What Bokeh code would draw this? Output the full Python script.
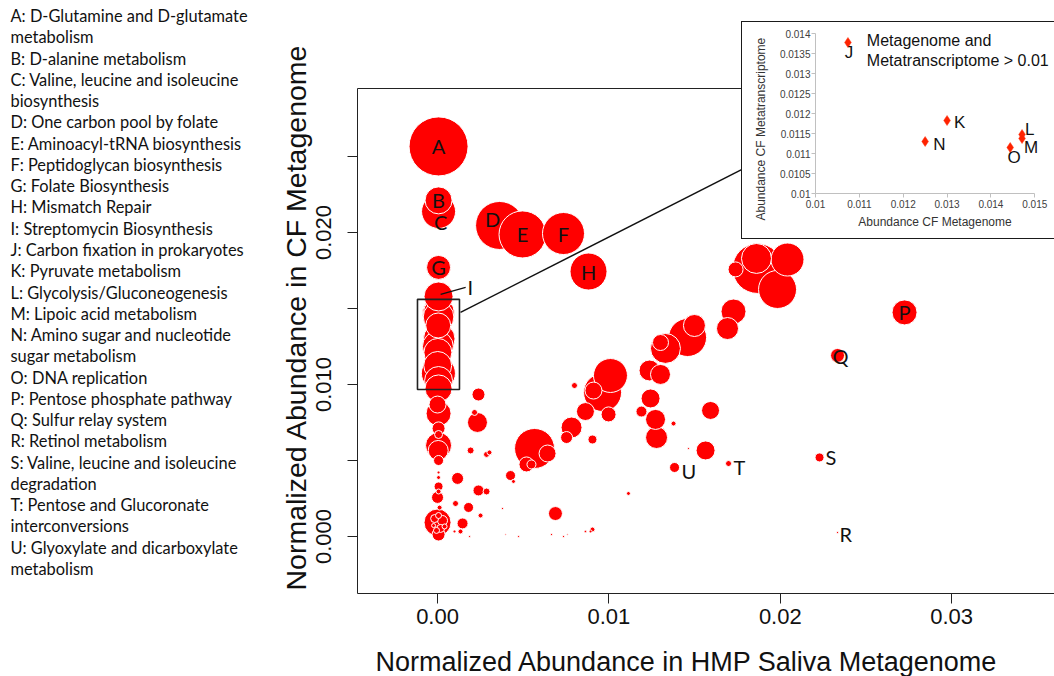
import math
from bokeh.plotting import figure
from bokeh.models import (Range1d, FixedTicker, CustomJSTickFormatter, PrintfTickFormatter,
                          LinearAxis, Title, ColumnDataSource)
from bokeh.embed import file_html
from bokeh.resources import INLINE
from bokeh.core.properties import value

# ---------------- data ----------------
legend_lines = [
    "A: D-Glutamine and D-glutamate", "metabolism",
    "B: D-alanine metabolism",
    "C: Valine, leucine and isoleucine", "biosynthesis",
    "D: One carbon pool by folate",
    "E: Aminoacyl-tRNA biosynthesis",
    "F: Peptidoglycan biosynthesis",
    "G: Folate Biosynthesis",
    "H: Mismatch Repair",
    "I: Streptomycin Biosynthesis",
    "J: Carbon fixation in prokaryotes",
    "K: Pyruvate metabolism",
    "L: Glycolysis/Gluconeogenesis",
    "M: Lipoic acid metabolism",
    "N: Amino sugar and nucleotide", "sugar metabolism",
    "O: DNA replication",
    "P: Pentose phosphate pathway",
    "Q: Sulfur relay system",
    "R: Retinol metabolism",
    "S: Valine, leucine and isoleucine", "degradation",
    "T: Pentose and Glucoronate", "interconversions",
    "U: Glyoxylate and dicarboxylate", "metabolism",
]

# labelled pathways (x = HMP saliva, y = CF metagenome, s = bubble size value)
lab_names = ["A", "B", "C", "D", "E", "F", "G", "H", "I", "P", "Q", "R", "S", "T", "U"]
lab_hmp = [0.00006, 0.00006, 0.00006, 0.00362, 0.00496, 0.00735, 0.00006, 0.00881, 0.00006,
           0.02725, 0.02334, 0.02334, 0.02229, 0.01698, 0.01383]
lab_cf = [0.02566, 0.02211, 0.02138, 0.02046, 0.01987, 0.01993, 0.01770, 0.01743, 0.01579,
          0.01474, 0.01191, 0.00026, 0.00520, 0.00480, 0.00454]
lab_size = [0.0414, 0.00867, 0.01375, 0.0274, 0.0263, 0.0210, 0.00685, 0.01628, 0.0100,
            0.00743, 0.00233, 0.0000476, 0.00096, 0.00043, 0.00119]

# pathways inside the box (shown in the inset): CF metagenome vs CF metatranscriptome
box_names = ["J", "K", "L", "M", "N", "O"]
box_hmp = [0.00005, 0.00010, 0.00003, 0.00008, 0.00002, 0.00006]
box_cf = [0.01074, 0.01300, 0.01471, 0.01471, 0.01250, 0.01444]
box_mtx = [0.013775, 0.011825, 0.011475, 0.011375, 0.01130, 0.01115]

# all other pathways
other_hmp = [
    0.00004, 0.00002, 0.00001, 0.00006, 0.00006, 0.00000, 0.00006, 0.00006, 0.00006, 0.00006,
    0.00004, 0.00006, 0.00006, 0.00006, 0.00006, 0.00006, 0.00000, 0.00000, 0.00006, -0.00017,
    0.00029, 0.00018, -0.00006, 0.00041, 0.00006, -0.00023, 0.00012,
    0.00239, 0.00233, 0.00216, 0.00193, 0.00286, 0.00303, 0.00117, 0.00239, 0.00286, 0.00105,
    0.00181, 0.00251, 0.00146, 0.00134, 0.00099, 0.00379, 0.00187, 0.00397, 0.00473, 0.00665,
    0.00735, 0.00758, 0.00863, 0.00904, 0.00893, 0.00688, 0.00426, 0.00443, 0.00566, 0.00642,
    0.00519, 0.00548, 0.00799, 0.01009, 0.00963, 0.00910, 0.00863, 0.00998, 0.00782, 0.00753,
    0.00904, 0.01114, 0.01237, 0.01301, 0.01243, 0.01190, 0.01272, 0.01278, 0.01377, 0.01593,
    0.01564, 0.01464, 0.01330, 0.01301, 0.01459, 0.01499, 0.01727, 0.01692, 0.01867, 0.01861,
    0.02042, 0.01984, 0.01739,
]
other_cf = [
    0.01388, 0.01211, 0.01125, 0.01026, 0.00974, 0.00868, 0.00809, 0.00711, 0.00671, 0.00599,
    0.00566, 0.00500, 0.00421, 0.00388, 0.00329, 0.00296, 0.00257, 0.00092, 0.00013, 0.00118,
    0.00105, 0.00053, 0.00040, 0.00066, 0.00138, 0.00072, 0.00190,
    0.00934, 0.00750, 0.00816, 0.00566, 0.00540, 0.00553, 0.00382, 0.00303, 0.00296, 0.00217,
    0.00191, 0.00138, 0.00086, 0.00033, 0.00033, 0.00184, 0.00000, 0.00013, 0.00000, 0.00013,
    0.00000, 0.00013, 0.00033, 0.00046, 0.00033, 0.00151, 0.00401, 0.00362, 0.00579, 0.00546,
    0.00474, 0.00474, 0.00993, 0.01059, 0.00947, 0.00960, 0.00822, 0.00803, 0.00717, 0.00651,
    0.00638, 0.00283, 0.01092, 0.01066, 0.00908, 0.00822, 0.00770, 0.00651, 0.00743, 0.00829,
    0.00566, 0.00579, 0.01237, 0.01276, 0.01309, 0.01388, 0.01480, 0.01368, 0.01763, 0.01829,
    0.01822, 0.01625, 0.01757,
]
other_size = [
    0.00743, 0.0093, 0.0093, 0.0093, 0.00867, 0.00344, 0.00743, 0.00201, 0.00076, 0.00804,
    0.00476, 0.00119, 0.000107, 0.00019, 0.00096, 0.0003, 0.00171, 0.00867, 0.00201, 0.00076,
    0.00119, 0.00076, 0.00043, 0.0003, 0.00043, 0.00019, 0.0003,
    0.00201, 0.00476, 0.00043, 0.00058, 0.00043, 0.0003, 0.00171, 0.00144, 0.00058, 0.00043,
    0.00119, 0.0003, 0.00144, 0.0003, 0.000107, 0.0000476, 0.0000476, 0.0000268, 0.0000476, 0.0000476,
    0.0000476, 0.0000268, 0.0000743, 0.0003, 0.000107, 0.00233, 0.00119, 0.00019, 0.0190, 0.00344,
    0.00268, 0.00096, 0.00043, 0.01375, 0.01717, 0.00344, 0.00385, 0.00268, 0.00524, 0.00171,
    0.00096, 0.00019, 0.00524, 0.00476, 0.00429, 0.00144, 0.00476, 0.00576, 0.0003, 0.00385,
    0.00429, 0.0000476, 0.0107, 0.00304, 0.01717, 0.00576, 0.00743, 0.00576, 0.0297, 0.0107,
    0.01295, 0.01717, 0.00268,
]

x_ticks = [0.0, 0.01, 0.02, 0.03]
y_ticks = [0.0, 0.005, 0.01, 0.015, 0.02, 0.025]
inset_x_ticks = [0.010, 0.011, 0.012, 0.013, 0.014, 0.015]
inset_y_ticks = [0.0100, 0.0105, 0.0110, 0.0115, 0.0120, 0.0125, 0.0130, 0.0135, 0.0140]

# zoom box (data units of main plot)
zoom_box = dict(left=-0.00117, right=0.00128, bottom=0.00967, top=0.0156)

# ---------------- styles ----------------
SIZE_K = 290.0
RED = "#ff0000"
AX_FONT = "Liberation Sans"

# ---------------- main plot ----------------
main = figure(width=1054, height=697,
              x_range=Range1d(-0.00467, 0.0360), y_range=Range1d(-0.00375, 0.02947),
              min_border_left=357, min_border_right=0, min_border_top=88, min_border_bottom=104,
              toolbar_location=None, output_backend="svg", outline_line_color=None,
              background_fill_color="white", border_fill_color="white")
main.grid.visible = False

# bubbles: draw biggest first
all_x = lab_hmp + box_hmp + other_hmp
all_y = lab_cf + box_cf + other_cf
all_s = lab_size + box_mtx + other_size
order = sorted(range(len(all_s)), key=lambda i: -all_s[i])
bsrc = ColumnDataSource(dict(
    x=[all_x[i] for i in order],
    y=[all_y[i] for i in order],
    d=[SIZE_K * math.sqrt(all_s[i]) for i in order],
))
main.scatter("x", "y", size="d", source=bsrc, marker="circle",
             fill_color=RED, line_color="white", line_width=1)

# zoom box + connector line + leader for I
main.quad(left=[zoom_box["left"]], right=[zoom_box["right"]],
          bottom=[zoom_box["bottom"]], top=[zoom_box["top"]],
          fill_color=None, line_color="#222222", line_width=1.6)
main.segment(x0=[0.00134], y0=[0.01474], x1=[0.0182], y1=[0.0244],
             line_color="#111111", line_width=1.5)
main.segment(x0=[0.00018], y0=[0.01592], x1=[0.00164], y1=[0.01638],
             line_color="#111111", line_width=1.3)

# letter labels
lab_dx = {"C": 2, "D": -7, "I": 29, "Q": 3, "R": 2, "S": 6, "T": 5, "U": 7}
lab_dy = {"C": 11, "D": -6, "I": -9, "Q": 1, "R": 1, "T": 3, "U": 4}
lab_al = {"I": "left", "R": "left", "S": "left", "T": "left", "U": "left"}
lsrc = ColumnDataSource(dict(
    x=lab_hmp, y=lab_cf, t=lab_names,
    dx=[lab_dx.get(n, 0) for n in lab_names],
    dy=[lab_dy.get(n, 0) for n in lab_names],
    al=[lab_al.get(n, "center") for n in lab_names],
))
main.text("x", "y", text="t", source=lsrc, x_offset="dx", y_offset="dy", text_align="al",
          text_baseline="middle", text_font=value("Lato"), text_font_size="20px",
          text_color="#111111")

# axes
for ax in (main.xaxis[0], main.yaxis[0]):
    ax.axis_line_color = "#222222"
    ax.axis_line_width = 1
    ax.major_tick_line_color = "#222222"
    ax.major_tick_out = 10
    ax.major_tick_in = 0
    ax.minor_tick_line_color = None
    ax.major_label_text_font = AX_FONT
    ax.major_label_text_font_size = "22px"
    ax.major_label_text_color = "#111111"
main.xaxis.ticker = FixedTicker(ticks=x_ticks)
main.xaxis.formatter = PrintfTickFormatter(format="%.2f")
main.xaxis.major_label_standoff = 5
main.yaxis.ticker = FixedTicker(ticks=y_ticks)
main.yaxis.formatter = CustomJSTickFormatter(
    code="return (Math.abs(Math.round(tick*200)) % 2 == 0) ? tick.toFixed(3) : '';")
main.yaxis.major_label_orientation = "vertical"
main.yaxis.major_label_standoff = 16

top_axis = LinearAxis(ticker=FixedTicker(ticks=[]), major_label_text_font_size="0px",
                      axis_line_color="#222222", major_tick_line_color=None,
                      minor_tick_line_color=None)
main.add_layout(top_axis, "above")

xt = Title(text="Normalized Abundance in HMP Saliva Metagenome", align="left", offset=18,
           text_font=AX_FONT, text_font_size="27px", text_font_style="normal",
           text_color="#111111", standoff=37)
main.add_layout(xt, "below")
yt = Title(text="Normalized Abundance in CF Metagenome", align="left", offset=3,
           text_font=AX_FONT, text_font_size="28.5px", text_font_style="normal",
           text_color="#111111", standoff=4)
main.add_layout(yt, "left")

# ---------------- legend (left text column) ----------------
leg = figure(width=272, height=676, x_range=Range1d(0, 272), y_range=Range1d(676, 0),
             min_border=0, toolbar_location=None, output_backend="svg",
             x_axis_location=None, y_axis_location=None, outline_line_color=None,
             background_fill_color=None, border_fill_color=None)
leg.grid.visible = False
leg.text(x=[10] * len(legend_lines), y=[15 + 21.27 * i for i in range(len(legend_lines))],
         text=legend_lines, text_baseline="middle", text_align="left",
         text_font=value("Lato"), text_font_size="16.4px", text_color="#111111")

# ---------------- inset ----------------
ins = figure(width=312, height=216, x_range=Range1d(0.01, 0.01545), y_range=Range1d(0.01, 0.014275),
             min_border_left=69, min_border_right=0, min_border_top=0, min_border_bottom=45,
             toolbar_location=None, output_backend="svg", outline_line_color=None)
ins.grid.visible = False
for ax in (ins.xaxis[0], ins.yaxis[0]):
    ax.axis_line_color = "#c0c0c0"
    ax.major_tick_line_color = "#c0c0c0"
    ax.major_tick_out = 4
    ax.major_tick_in = 0
    ax.minor_tick_line_color = None
    ax.major_label_text_font = AX_FONT
    ax.major_label_text_font_size = "10px"
    ax.major_label_text_color = "#404040"
    ax.major_label_standoff = 2
    ax.formatter = PrintfTickFormatter(format="%g")
    ax.axis_label_text_font = AX_FONT
    ax.axis_label_text_font_size = "12px"
    ax.axis_label_text_font_style = "normal"
    ax.axis_label_text_color = "#333333"
ins.yaxis.major_label_standoff = 1
ins.xaxis.ticker = FixedTicker(ticks=inset_x_ticks)
ins.yaxis.ticker = FixedTicker(ticks=inset_y_ticks)
ins.xaxis.bounds = (0.010, 0.015)
ins.yaxis.bounds = (0.010, 0.014)
ins.xaxis.axis_label = "Abundance CF Metagenome"
ins.xaxis.axis_label_standoff = 4
ins_yt = Title(text="Abundance CF Metatranscriptome", align="left", offset=-27,
               text_font=AX_FONT, text_font_size="12px", text_font_style="normal",
               text_color="#333333", standoff=18)
ins.add_layout(ins_yt, "left")

ins.scatter(box_cf, box_mtx, marker="diamond", size=10, fill_color="#ff2200",
            line_color="#ff3311", line_width=0.5)
ins_dx = {"J": 1, "K": 7, "L": 3, "M": 2, "N": 8, "O": 4}
ins_dy = {"J": 10, "K": 2, "L": -5, "M": 9, "N": 3, "O": 10}
ins_al = {"J": "center", "K": "left", "L": "left", "M": "left", "N": "left", "O": "center"}
isrc = ColumnDataSource(dict(
    x=box_cf, y=box_mtx, t=box_names,
    dx=[ins_dx[n] for n in box_names], dy=[ins_dy[n] for n in box_names],
    al=[ins_al[n] for n in box_names],
))
ins.text("x", "y", text="t", source=isrc, x_offset="dx", y_offset="dy", text_align="al",
         text_baseline="middle", text_font=value(AX_FONT), text_font_size="17px",
         text_color="#111111")
ins.text(x=[0.01117, 0.01117], y=[0.013825, 0.013325],
         text=["Metagenome and", "Metatranscriptome > 0.01"],
         text_baseline="middle", text_align="left",
         text_font=value(AX_FONT), text_font_size="16px", text_color="#111111")

# ---------------- page ----------------
html = file_html([main, leg, ins], INLINE, title="CF metagenome")
css = ("<style>html,body{overflow:hidden;}"
       'div[data-root-id="%s"]{position:absolute !important;left:0px;top:0px;'
       "display:block !important;line-height:0;}"
       'div[data-root-id="%s"]{position:absolute !important;left:741px;top:21px;'
       "display:block !important;border:1.5px solid #1a1a1a;background:#fff;line-height:0;}"
       "</style>") % (leg.id, ins.id)
html = html.replace("</head>", css + "</head>", 1)
open("out.html", "w").write(html)
